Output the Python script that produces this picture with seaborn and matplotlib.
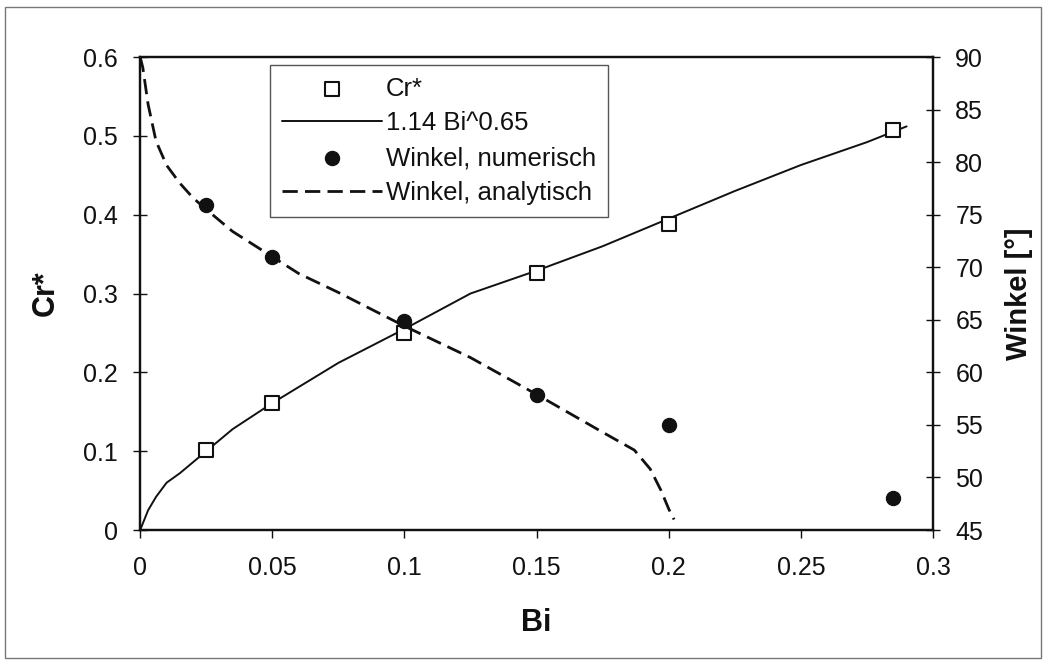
import matplotlib
matplotlib.use("Agg")
import matplotlib.pyplot as plt
import seaborn as sns
from matplotlib.patches import Rectangle

# Messpunkte Cr*
bi_cr = [0.025, 0.05, 0.1, 0.15, 0.2, 0.285]
cr_vals = [0.102, 0.161, 0.25, 0.326, 0.388, 0.508]

# Ausgleichskurve 1.14 Bi^0.65
bi_fit = [0, 0.003, 0.006, 0.01, 0.015, 0.025, 0.035, 0.05, 0.075, 0.1, 0.125, 0.15, 0.175, 0.2, 0.225, 0.25, 0.275, 0.29]
cr_fit = [0, 0.025, 0.042, 0.06, 0.072, 0.1, 0.128, 0.161, 0.212, 0.255, 0.3, 0.329, 0.36, 0.395, 0.43, 0.463, 0.492, 0.512]

# Winkel numerisch
bi_num = [0.025, 0.05, 0.1, 0.15, 0.2, 0.285]
w_num = [75.9, 71.0, 64.9, 57.8, 55.0, 48.0]

# Winkel analytisch
bi_ana = [0, 0.001, 0.003, 0.006, 0.01, 0.015, 0.02, 0.025, 0.035, 0.05, 0.06, 0.075, 0.1, 0.125, 0.15, 0.175, 0.187, 0.193, 0.197, 0.2, 0.202]
w_ana = [90, 89.0, 85.5, 82.0, 79.7, 78.0, 76.6, 75.5, 73.4, 71.0, 69.4, 67.6, 64.4, 61.4, 57.9, 54.3, 52.6, 50.8, 48.8, 47.0, 46.0]

x_ticks = [0, 0.05, 0.1, 0.15, 0.2, 0.25, 0.3]
x_labels = ["0", "0.05", "0.1", "0.15", "0.2", "0.25", "0.3"]
y_ticks = [0, 0.1, 0.2, 0.3, 0.4, 0.5, 0.6]
y_labels = ["0", "0.1", "0.2", "0.3", "0.4", "0.5", "0.6"]
w_ticks = [45, 50, 55, 60, 65, 70, 75, 80, 85, 90]

sns.set_style("ticks")
plt.rcParams["font.family"] = ["Liberation Sans", "DejaVu Sans"]

ink = "#111111"
fig = plt.figure(figsize=(10.46, 6.63), dpi=100)
ax = fig.add_axes([0.134, 0.2006, 0.758, 0.7134])
ax2 = ax.twinx()

sns.lineplot(x=bi_fit, y=cr_fit, ax=ax, color=ink, lw=1.4, label="1.14 Bi^0.65", legend=False)
sns.scatterplot(x=bi_cr, y=cr_vals, ax=ax, marker="s", s=95, color="white",
                edgecolor=ink, linewidth=1.5, label="Cr*", legend=False, zorder=5)

sns.lineplot(x=bi_ana, y=w_ana, ax=ax2, color=ink, lw=2.0, linestyle=(0, (5.5, 2.6)),
             label="Winkel, analytisch", legend=False)
sns.scatterplot(x=bi_num, y=w_num, ax=ax2, marker="o", s=105, color=ink,
                edgecolor=ink, label="Winkel, numerisch", legend=False, zorder=5)

ax.set_xlim(0, 0.3)
ax.set_ylim(0, 0.6)
ax2.set_ylim(45, 90)
ax.set_xticks(x_ticks)
ax.set_xticklabels(x_labels)
ax.set_yticks(y_ticks)
ax.set_yticklabels(y_labels)
ax2.set_yticks(w_ticks)
ax2.set_yticklabels([str(t) for t in w_ticks])

ax.tick_params(axis="y", direction="inout", length=10, width=1, pad=11, labelsize=18, colors=ink)
ax.tick_params(axis="x", direction="out", length=6, width=1, pad=13, labelsize=18, colors=ink)
ax2.tick_params(axis="y", direction="inout", length=10, width=1, pad=11, labelsize=18, colors=ink)

for a in (ax, ax2):
    for sp in a.spines.values():
        sp.set_visible(True)
        sp.set_linewidth(1.6)
        sp.set_color(ink)

ax.set_xlabel("Bi", fontsize=22, fontweight="bold", labelpad=20, color=ink)
ax.set_ylabel("Cr*", fontsize=22, fontweight="bold", labelpad=16, color=ink)
ax2.set_ylabel("Winkel [°]", fontsize=21, fontweight="bold", labelpad=16, color=ink)

h1, l1 = ax.get_legend_handles_labels()
h2, l2 = ax2.get_legend_handles_labels()
order = {"Cr*": 0, "1.14 Bi^0.65": 1, "Winkel, numerisch": 2, "Winkel, analytisch": 3}
pairs = sorted(zip(h1 + h2, l1 + l2), key=lambda p: order[p[1]])
leg = ax2.legend([p[0] for p in pairs], [p[1] for p in pairs],
                 loc="upper left", bbox_to_anchor=(0.164, 0.983), fontsize=18.5,
                 frameon=True, fancybox=False, edgecolor="#555555", framealpha=1,
                 handlelength=3.9, handletextpad=0.15, labelspacing=0.42,
                 borderpad=0.45, borderaxespad=0)
leg.get_frame().set_linewidth(1.0)
for t in leg.get_texts():
    t.set_color(ink)

fig.patches.append(Rectangle((0.005, 0.008), 0.99, 0.982, transform=fig.transFigure,
                             fill=False, edgecolor="#777777", lw=1.0))

fig.savefig("out.png", dpi=100)
